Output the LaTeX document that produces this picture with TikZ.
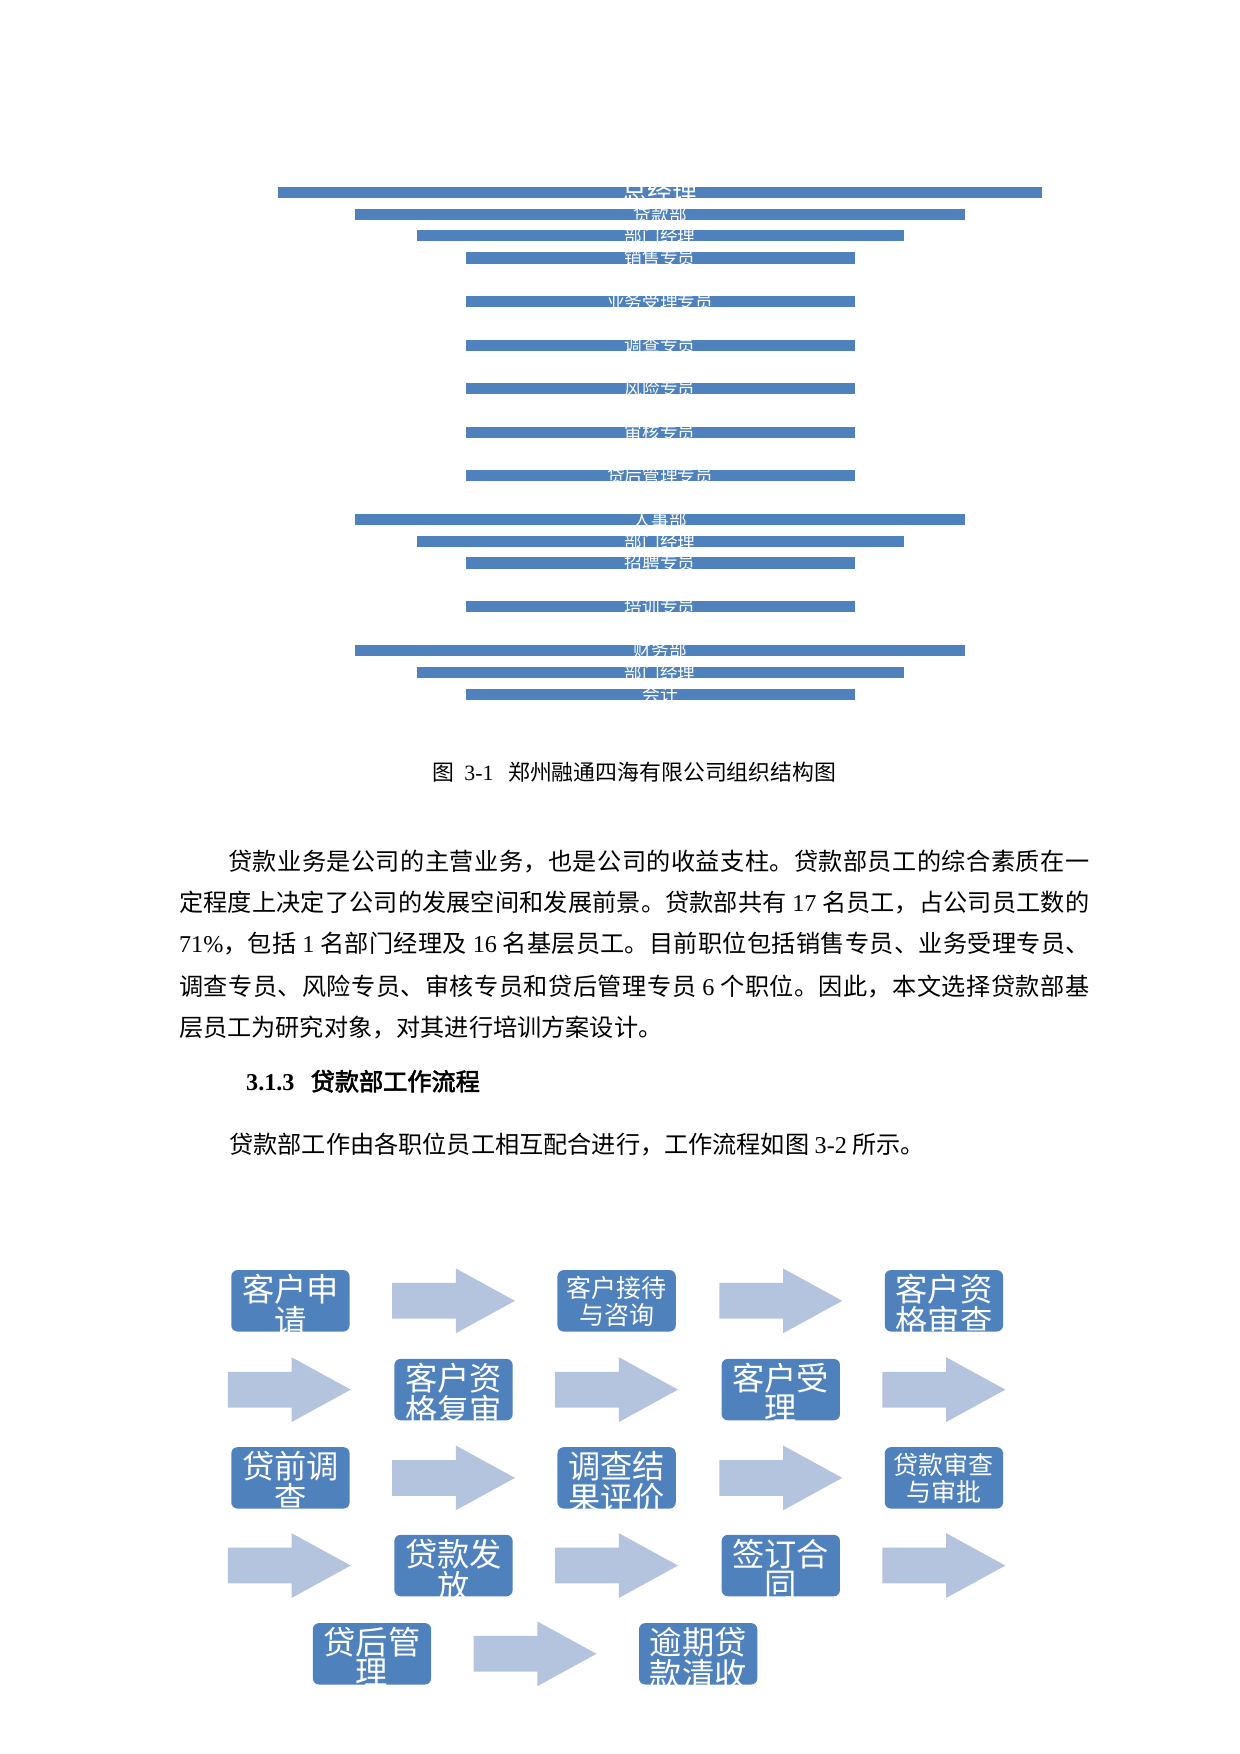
\documentclass[tikz,border=0pt]{standalone}
\usepackage{fontspec}
\setmainfont{Liberation Serif}
\newfontfamily\cjk{Noto Sans CJK SC}[AutoFakeBold=2.5]
\usetikzlibrary{positioning}
\definecolor{barblue}{HTML}{4F81BD}
\definecolor{stepblue}{HTML}{4F81BD}
\definecolor{arrowblue}{HTML}{B4C3DE}
\newcommand\lat[1]{{\rmfamily #1}}
% block arrow: left end x, middle y
\newcommand\flowarr[2]{%
  \fill[arrowblue] (#1,#2-16) -- (#1+57,#2-16) -- (#1+57,#2-29) -- (#1+110,#2)
    -- (#1+57,#2+29) -- (#1+57,#2+16) -- (#1,#2+16) -- cycle;}
\XeTeXlinebreaklocale "zh"
\XeTeXlinebreakskip=0pt plus 1pt

\begin{document}
\begin{tikzpicture}
  [
  x=0.5363pt, y=-0.5363pt,
  barlabel/.style={
    text=white,
    inner sep=0pt
  },
  stepbox/.style={
    rectangle,
    fill=stepblue,
    rounded corners=3pt,
    minimum width=56.8pt,
    minimum height=29.5pt,
    inner sep=0pt
  },
  steptext/.style={
    text=white,
    inner sep=0pt,
    align=center,
    font=\cjk\fontsize{15.5}{13.4}\selectfont
  },
  smalltext/.style={
    steptext,
    font=\cjk\fontsize{12}{13}\selectfont
  },
  body/.style={
    anchor=west,
    inner sep=0pt,
    font=\cjk\fontsize{11.6}{14}\selectfont
  },
  bodyline/.style={
    body,
    text width=437pt,
    align=justify,
    execute at begin node={\parfillskip=0pt}
  }
  ]
  \useasboundingbox (0,0) rectangle (1110,1570.2);

  % organisation chart bars
  \foreach \xa/\xb/\yy/\txt/\fs [count=\i] in {
      249/933/167/总经理/12, 318/864/187/贷款部/8.5, 373/809/206/部门经理/8.5,
      417/765/226/销售专员/8.5, 417/765/265/业务受理专员/8.5, 417/765/304/调查专员/8.5,
      417/765/343/风险专员/8.5, 417/765/382/审核专员/8.5, 417/765/421/贷后管理专员/8.5,
      318/864/460/人事部/8.5, 373/809/480/部门经理/8.5, 417/765/499/招聘专员/8.5,
      417/765/538/培训专员/8.5, 318/864/577/财务部/8.5, 373/809/597/部门经理/8.5,
      417/765/617/会计/8.5}
  {
    \fill[barblue] (\xa,\yy) rectangle (\xb,\yy+10);
    \node[barlabel, font=\cjk\fontsize{\fs}{\fs}\selectfont] (bar\i) at (591,\yy+5) {\txt};
  }

  \node[font=\cjk\fontsize{10.5}{12}\selectfont, inner sep=0pt] (cap) at (568,691)
    {图\ \ \lat{3-1}\ \ \ 郑州融通四海有限公司组织结构图};

  % text
  \node[bodyline] (line1) at (160,771)
    {\hspace*{23.5pt}贷款业务是公司的主营业务，也是公司的收益支柱。贷款部员工的综合素质在一};
  \node[bodyline] (line2) at (160,808)
    {定程度上决定了公司的发展空间和发展前景。贷款部共有 \lat{17} 名员工，占公司员工数的};
  \node[bodyline] (line3) at (160,845)
    {\lat{71\%}，包括 \lat{1} 名部门经理及 \lat{16} 名基层员工。目前职位包括销售专员、业务受理专员、};
  \node[bodyline] (line4) at (160,883)
    {调查专员、风险专员、审核专员和贷后管理专员 \lat{6} 个职位。因此，本文选择贷款部基};
  \node[body] (line5) at (160,920)
    {层员工为研究对象，对其进行培训方案设计。};
  \node[body, font=\cjk\bfseries\fontsize{11.6}{14}\selectfont] (head) at (220,968)
    {\lat{\textbf{3.1.3}}\ \ \ 贷款部工作流程};
  \node[body] (intro) at (205,1025)
    {贷款部工作由各职位员工相互配合进行，工作流程如图 \lat{3-2} 所示。};

  % flow chart
  \node[stepbox] (s1) at (260,1164.5) {};
  \node[stepbox] (s2) at (552,1164.5) {};
  \node[stepbox] (s3) at (845,1164.5) {};
  \node[stepbox] (s4) at (406,1244) {};
  \node[stepbox] (s5) at (699,1244) {};
  \node[stepbox] (s6) at (260,1323) {};
  \node[stepbox] (s7) at (552,1323) {};
  \node[stepbox] (s8) at (845,1323) {};
  \node[stepbox] (s9) at (406,1401.5) {};
  \node[stepbox] (s10) at (699,1401.5) {};
  \node[stepbox] (s11) at (333,1480.5) {};
  \node[stepbox] (s12) at (625,1480.5) {};

  \node[steptext, below=2pt of s1.north] {客户申\\请};
  \node[smalltext, below=3pt of s2.north] {客户接待\\与咨询};
  \node[steptext, below=2pt of s3.north] {客户资\\格审查};
  \node[steptext, below=2pt of s4.north] {客户资\\格复审};
  \node[steptext, below=2pt of s5.north] {客户受\\理};
  \node[steptext, below=2pt of s6.north] {贷前调\\查};
  \node[steptext, below=2pt of s7.north] {调查结\\果评价};
  \node[smalltext, below=3pt of s8.north] {贷款审查\\与审批};
  \node[steptext, below=2pt of s9.north] {贷款发\\放};
  \node[steptext, below=2pt of s10.north] {签订合\\同};
  \node[steptext, below=2pt of s11.north] {贷后管\\理};
  \node[steptext, below=2pt of s12.north] {逾期贷\\款清收};

  \flowarr{351}{1164.5} \flowarr{644}{1164.5}
  \flowarr{204}{1244} \flowarr{497}{1244} \flowarr{790}{1244}
  \flowarr{351}{1323} \flowarr{644}{1323}
  \flowarr{204}{1401.5} \flowarr{497}{1401.5} \flowarr{790}{1401.5}
  \flowarr{424}{1480.5}
\end{tikzpicture}
\end{document}
